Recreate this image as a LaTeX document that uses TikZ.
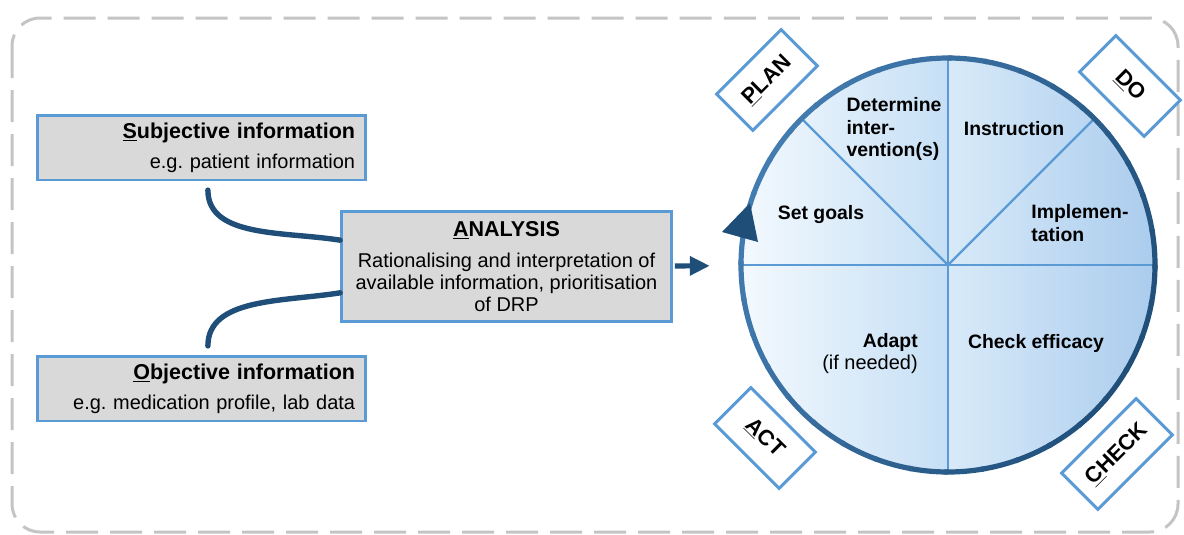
\documentclass[tikz,border=0pt]{standalone}
\usepackage{fontspec}
\setmainfont{Liberation Sans}
\usetikzlibrary{arrows.meta,positioning}

\definecolor{boxgray}{HTML}{D9D9D9}
\definecolor{boxblue}{HTML}{5B9BD5}
\definecolor{navy}{HTML}{1F4E79}
\definecolor{framegray}{HTML}{C4C4C4}
\definecolor{discA}{HTML}{F3F9FE}
\definecolor{discB}{HTML}{C6DFF5}
\definecolor{discC}{HTML}{D8EAF9}
\definecolor{discD}{HTML}{ABCCED}

\newcommand{\hdr}{\fontsize{15.3}{18}\selectfont\bfseries}
\newcommand{\bodytxt}{\fontsize{14.2}{15.6}\selectfont}
\newcommand{\sectorfont}{\fontsize{13.8}{16.3}\selectfont\bfseries}
\newcommand{\phasefont}{\fontsize{15.5}{18}\selectfont\bfseries}

\begin{document}
\begin{tikzpicture}[x=0.25mm, y=-0.25mm]
\tikzstyle{framebox} = [draw=framegray, line width=0.75mm, dash pattern=on 8mm off 3mm, rounded corners=7mm]
\tikzstyle{infobox} = [draw=boxblue, line width=0.7mm, fill=boxgray, text width=76.8mm, inner xsep=2.5mm, minimum height=16.2mm, align=right, font=\bodytxt]
\tikzstyle{bigbox} = [draw=boxblue, line width=0.7mm, fill=boxgray, minimum width=82.5mm, minimum height=27.6mm, align=center, font=\bodytxt]
\tikzstyle{phasebox} = [draw=boxblue, line width=0.75mm, fill=white, minimum width=22.8mm, minimum height=12.8mm, font=\phasefont]
\tikzstyle{sector} = [font=\sectorfont, inner sep=0pt]
\tikzstyle{divider} = [draw=boxblue, line width=0.6mm]
\tikzstyle{ring} = [line width=1.3mm]
\tikzstyle{feed} = [draw=navy, line width=1.35mm, line cap=round, shorten <=2.2mm]
\tikzstyle{flowarrow} = [draw=navy, line width=1.3mm, -{Triangle[length=5mm,width=4.6mm]}, shorten <=0.5mm, shorten >=7.8mm]

\useasboundingbox (0,0) rectangle (1184,534);
\draw[framebox] (12,18) rectangle (1178,532);

% information and analysis
\node (subj)[infobox] at (201.5,147.5) {{\hdr\underline{S}ubjective information}\\[5.5pt] e.g.\ patient information};
\node (obj)[infobox] at (201.5,388.5) {{\hdr\underline{O}bjective information}\\[5.5pt] e.g.\ medication profile, lab data};
\node (analysis)[bigbox] at (506.5,266.5) {{\hdr\underline{A}NALYSIS}\\[6.4pt] Rationalising and interpretation of\\ available information, prioritisation\\ of DRP};

\draw[feed] ([xshift=1.6mm]subj.south) to[out=-90, in=171] (analysis);
\draw[feed] ([xshift=1.6mm]obj.north) to[out=90, in=189] (analysis);

% PDCA wheel
\node (pdca)[circle, minimum size=103.5mm, inner sep=0pt, outer sep=0pt] at (948,265) {};
\begin{scope}
\clip (pdca.center) circle[radius=207];
\shade[left color=discA, right color=discB] (741,58) rectangle (948,472);
\shade[left color=discC, right color=discD] (948,58) rectangle (1155,472);
\end{scope}
\draw[divider] (pdca.west) -- (pdca.east);
\draw[divider] (pdca.north) -- (pdca.south);
\draw[divider] (pdca.center) -- (pdca.135);
\draw[divider] (pdca.center) -- (pdca.45);
\foreach \a in {0,10,...,350}{
  \pgfmathtruncatemacro{\m}{70+30*cos(\a-20)}
  \draw[ring, draw=navy!\m!boxblue] (pdca.center) ++(\a:207) arc[start angle=\a, end angle=\a+11, radius=207];
}
\fill[navy] (750,203) -- (722,232) -- (758,242) -- cycle;

\draw[flowarrow] (analysis) -- (pdca);

\node (goals)[sector] at (821,215) {Set goals};
\node (determine)[sector, align=left] at (894,129) {Determine\\ inter-\\ vention(s)};
\node (instr)[sector] at (1014,128.5) {Instruction};
\node (impl)[sector, align=left] at (1080,223.5) {Implemen-\\ tation};
\node (adapt)[sector, align=right] at (870,353.5) {Adapt\\ {\mdseries\bodytxt (if needed)}};
\node (efficacy)[sector] at (1036,343) {Check efficacy};

\node (plan)[phasebox, rotate=45] at (767,80) {\underline{P}LAN};
\node (do)[phasebox, rotate=-45] at (1130,86) {\underline{D}O};
\node (act)[phasebox, rotate=-45] at (765,438) {\underline{A}CT};
\node (check)[phasebox, rotate=45, minimum width=26.3mm] at (1117,454) {\underline{C}HECK};
\end{tikzpicture}
\end{document}
